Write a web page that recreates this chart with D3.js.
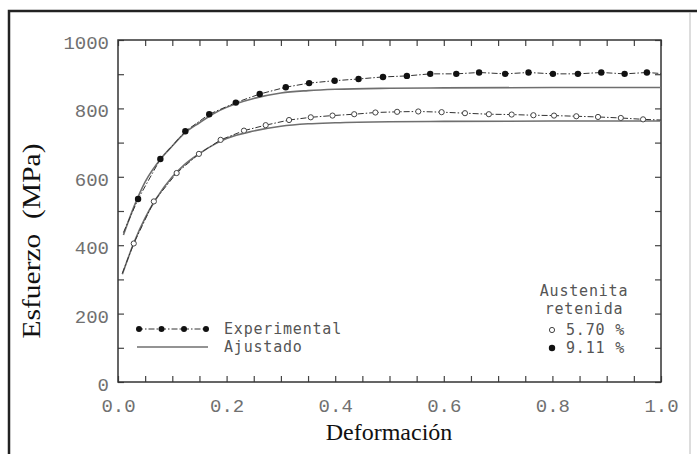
<!DOCTYPE html>
<html>
<head>
<meta charset="utf-8">
<script src="https://cdn.jsdelivr.net/npm/d3@7"></script>
<style>
  html, body { margin: 0; padding: 0; background: #fff; }
  svg { display: block; }
</style>
</head>
<body>
<svg id="chart" width="697" height="454"></svg>
<script>
// ---------------- data ----------------
const xTickLabels = ["0.0", "0.2", "0.4", "0.6", "0.8", "1.0"];
const yTickLabels = ["0", "200", "400", "600", "800", "1000"];

// 9.11 % retained austenite – experimental (filled)
const exp911X = [0.037, 0.078, 0.124, 0.168, 0.217, 0.261, 0.309, 0.352, 0.399, 0.443, 0.488, 0.532, 0.575, 0.623, 0.665, 0.713, 0.756, 0.801, 0.847, 0.890, 0.933, 0.974];
const exp911Y = [535, 652, 733, 783, 817, 842, 862, 874, 881, 886, 892, 895, 901, 901, 905, 901, 905, 901, 901, 905, 901, 905];
const exp911Start = [0.01, 437];
const exp911End = [1.0, 902];

// 5.70 % retained austenite – experimental (open)
const exp570X = [0.029, 0.066, 0.108, 0.149, 0.189, 0.232, 0.272, 0.315, 0.355, 0.395, 0.435, 0.474, 0.514, 0.553, 0.596, 0.639, 0.683, 0.725, 0.765, 0.803, 0.844, 0.884, 0.926, 0.967];
const exp570Y = [405, 528, 611, 667, 708, 735, 751, 766, 774, 779, 783, 788, 790, 791, 789, 786, 783, 782, 780, 779, 777, 775, 772, 768];
const exp570Start = [0.008, 318];
const exp570End = [1.0, 766];

// fitted curves
const fit911X = [0.01, 0.03, 0.05, 0.08, 0.10, 0.12, 0.15, 0.18, 0.20, 0.22, 0.25, 0.30, 0.35, 0.40, 0.50, 0.60, 0.80, 1.00];
const fit911Y = [430, 515, 585, 655, 690, 724, 758, 788, 803, 815, 829, 845, 852, 856, 859, 860, 861, 861];
const fit570X = [0.008, 0.03, 0.05, 0.07, 0.10, 0.12, 0.15, 0.18, 0.20, 0.25, 0.30, 0.35, 0.40, 0.50, 0.60, 0.80, 1.00];
const fit570Y = [315, 410, 480, 535, 600, 632, 668, 697, 712, 734, 748, 755, 758, 761, 762, 763, 763];

const legendLabels = ["Experimental", "Ajustado"];
const legendTitle = ["Austenita", "retenida"];
const seriesLabels = ["5.70 %", "9.11 %"];

// ---------------- drawing ----------------
const svg = d3.select("#chart");
const x = d3.scaleLinear().domain([0, 1]).range([118, 661]);
const y = d3.scaleLinear().domain([0, 1000]).range([382, 40]);

// outer border
svg.append("path").attr("d", "M9,454 L9,11 L697,11")
  .attr("fill", "none").attr("stroke", "#222").attr("stroke-width", 2.5);
svg.append("line").attr("x1", 690).attr("x2", 690).attr("y1", 12).attr("y2", 454)
  .attr("stroke", "#bbb").attr("stroke-width", 1);

const monoTick = "'Liberation Mono', monospace";
const xMinor = d3.range(0, 21).map(i => i * 0.05);
const yMinor = d3.range(0, 11).map(i => i * 100);

function xLab(d) {
  const i = Math.round(d / 0.2);
  return Math.abs(d - i * 0.2) < 1e-6 ? xTickLabels[i] : "";
}
function yLab(d) {
  const i = Math.round(d / 200);
  return Math.abs(d - i * 200) < 1e-6 ? yTickLabels[i] : "";
}

const gB = svg.append("g").attr("transform", `translate(0,${y(0)})`)
  .call(d3.axisBottom(x).tickValues(xMinor).tickSize(-6).tickPadding(17).tickFormat(xLab));
const gT = svg.append("g").attr("transform", `translate(0,${y(1000)})`)
  .call(d3.axisTop(x).tickValues(xMinor).tickSize(-6).tickFormat(""));
const gL = svg.append("g").attr("transform", `translate(${x(0)},0)`)
  .call(d3.axisLeft(y).tickValues(yMinor).tickSize(-6).tickPadding(9).tickFormat(yLab));
const gR = svg.append("g").attr("transform", `translate(${x(1)},0)`)
  .call(d3.axisRight(y).tickValues(yMinor).tickSize(-6).tickFormat(""));

[gB, gT, gL, gR].forEach(g => {
  g.select(".domain").remove();
  g.selectAll(".tick line").attr("stroke", "#444").attr("stroke-width", 1.2);
  g.selectAll(".tick text").attr("fill", "#707070").style("font-family", monoTick).style("font-size", "19px");
});
gL.selectAll(".tick text").attr("dy", "0.45em");

// frame
svg.append("rect").attr("x", x(0)).attr("y", y(1000))
  .attr("width", x(1) - x(0)).attr("height", y(0) - y(1000))
  .attr("fill", "none").attr("stroke", "#333").attr("stroke-width", 1.5);

// fitted curves
const fitLine = d3.line().x(d => x(d[0])).y(d => y(d[1])).curve(d3.curveMonotoneX);
[[fit911X, fit911Y], [fit570X, fit570Y]].forEach(([xs, ys]) => {
  svg.append("path").datum(xs.map((v, i) => [v, ys[i]]))
    .attr("d", fitLine).attr("fill", "none").attr("stroke", "#6f6f6f").attr("stroke-width", 1.6);
});

// experimental lines
const expLine = d3.line().x(d => x(d[0])).y(d => y(d[1]));
const dash = "6,2,1.5,2";
[[exp911X, exp911Y, exp911Start, exp911End], [exp570X, exp570Y, exp570Start, exp570End]].forEach(([xs, ys, s, e]) => {
  const pts = [s].concat(xs.map((v, i) => [v, ys[i]])).concat([e]);
  svg.append("path").datum(pts).attr("d", expLine)
    .attr("fill", "none").attr("stroke", "#333").attr("stroke-width", 1).attr("stroke-dasharray", dash);
});

// markers
svg.append("g").selectAll("circle").data(exp911X.map((v, i) => [v, exp911Y[i]])).join("circle")
  .attr("cx", d => x(d[0])).attr("cy", d => y(d[1])).attr("r", 3.2).attr("fill", "#111");
svg.append("g").selectAll("circle").data(exp570X.map((v, i) => [v, exp570Y[i]])).join("circle")
  .attr("cx", d => x(d[0])).attr("cy", d => y(d[1])).attr("r", 2.6)
  .attr("fill", "#fff").attr("stroke", "#444").attr("stroke-width", 1);

// axis titles
svg.append("text").attr("x", 389).attr("y", 440).attr("text-anchor", "middle")
  .style("font-family", "'Liberation Serif', 'Times New Roman', serif").style("font-size", "24px")
  .attr("fill", "#111").text("Deformación");
svg.append("text").attr("transform", "translate(40,241) rotate(-90)").attr("text-anchor", "middle")
  .attr("xml:space", "preserve")
  .style("font-family", "'Liberation Serif', 'Times New Roman', serif").style("font-size", "25px")
  .attr("textLength", 195).attr("lengthAdjust", "spacingAndGlyphs")
  .attr("fill", "#111").text("Esfuerzo  (MPa)");

// legend (line styles)
const monoLeg = "'DejaVu Sans Mono', monospace";
const lg = svg.append("g");
lg.append("line").attr("x1", 137).attr("x2", 207).attr("y1", 329).attr("y2", 329)
  .attr("stroke", "#333").attr("stroke-width", 1).attr("stroke-dasharray", dash);
lg.selectAll("circle").data([139, 161.5, 184, 206]).join("circle")
  .attr("cx", d => d).attr("cy", 329).attr("r", 3).attr("fill", "#111");
lg.append("line").attr("x1", 137).attr("x2", 208).attr("y1", 347).attr("y2", 347)
  .attr("stroke", "#6f6f6f").attr("stroke-width", 1.6);
lg.selectAll("text").data(legendLabels).join("text")
  .attr("x", 224).attr("y", (d, i) => 334 + i * 18)
  .style("font-family", monoLeg).style("font-size", "15px").style("letter-spacing", "0.8px")
  .attr("fill", "#555").text(d => d);

// legend (series)
const rg = svg.append("g");
rg.selectAll("text.t").data(legendTitle).join("text").attr("class", "t")
  .attr("x", 584).attr("y", (d, i) => 296 + i * 18).attr("text-anchor", "middle")
  .style("font-family", monoLeg).style("font-size", "15px").style("letter-spacing", "0.8px")
  .attr("fill", "#555").text(d => d);
rg.selectAll("text.s").data(seriesLabels).join("text").attr("class", "s")
  .attr("x", 566).attr("y", (d, i) => 335 + i * 18)
  .style("font-family", monoLeg).style("font-size", "15px").style("letter-spacing", "0.8px")
  .attr("fill", "#555").text(d => d);
rg.append("circle").attr("cx", 552).attr("cy", 330).attr("r", 2.6)
  .attr("fill", "#fff").attr("stroke", "#444").attr("stroke-width", 1);
rg.append("circle").attr("cx", 552).attr("cy", 348).attr("r", 3.2).attr("fill", "#111");
</script>
</body>
</html>
